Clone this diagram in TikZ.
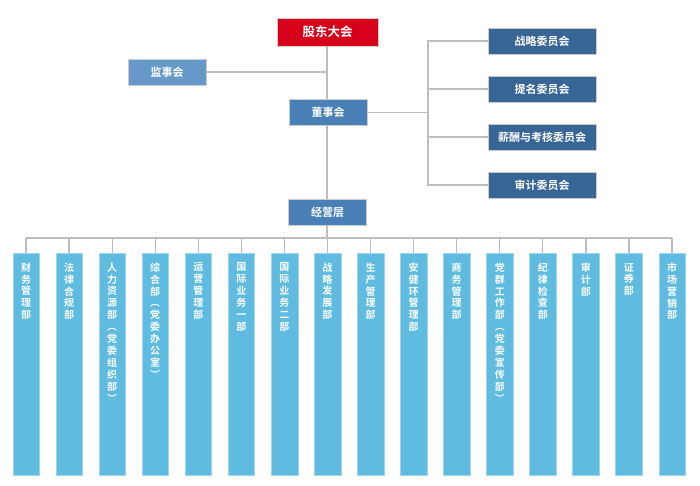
\documentclass[tikz,border=0pt]{standalone}
\usepackage{fontspec}
\newfontfamily\cjk{Noto Sans CJK SC}[BoldFont={Noto Sans CJK SC Bold}]
\begin{document}
\begin{tikzpicture}[x=1pt,y=-1pt,
  box/.style={draw=white!80!black,line width=0.4pt,text=white,font=\cjk\bfseries\fontsize{11}{13}\selectfont,inner sep=0pt,anchor=center},
  topbox/.style={box,fill=redc,minimum width=101pt,minimum height=28pt,font=\cjk\bfseries\fontsize{12.5}{14}\selectfont},
  midbox/.style={box,fill=midc,minimum width=78pt,minimum height=26pt},
  supbox/.style={box,fill=supc,minimum width=78pt,minimum height=26pt},
  combox/.style={box,fill=comc,minimum width=108pt,minimum height=26pt},
  dept/.style={fill=deptc,draw=deptc!60!white,line width=0.4pt},
  depttext/.style={text=white,font=\cjk\bfseries\fontsize{10}{11.9}\selectfont,align=center,anchor=north,inner sep=0pt},
  conn/.style={draw=linec,line width=1.2pt}]
\definecolor{redc}{HTML}{D7001B}
\definecolor{midc}{HTML}{4A80B8}
\definecolor{supc}{HTML}{6698C9}
\definecolor{comc}{HTML}{376595}
\definecolor{deptc}{HTML}{5FBBDF}
\definecolor{linec}{HTML}{BDBDBD}
\useasboundingbox[fill=white] (0,0) rectangle (700,485);
\coordinate (jA) at (327,72);
\coordinate (jB) at (428,112.5);
\coordinate (bus) at (327,238);
\node[topbox] (gd) at (327.5,32) {股东大会};
\node[supbox] (js) at (167,72) {监事会};
\node[midbox] (ds) at (328,112.5) {董事会};
\node[midbox] (jy) at (327.5,212) {经营层};
\node[combox] (c1) at (542,41) {战略委员会};
\node[combox] (c2) at (542,89) {提名委员会};
\node[combox] (c3) at (542,137) {薪酬与考核委员会};
\node[combox] (c4) at (542,185) {审计委员会};
\draw[conn] (gd.south -| jA) -- (ds.north -| jA);
\draw[conn] (js.east) -- (jA);
\draw[conn] (ds.south -| jA) -- (jy.north -| jA);
\draw[conn] (ds.east) -- (jB);
\draw[conn] (c1.west) -| (jB);
\draw[conn] (c4.west) -| (jB);
\draw[conn] (c2.west) -- (c2.west -| jB);
\draw[conn] (c3.west) -- (c3.west -| jB);
\draw[conn] (jy.south -| bus) -- (bus);
\foreach \t [count=\i from 0] in {
  {财\\务\\管\\理\\部},
  {法\\律\\合\\规\\部},
  {人\\力\\资\\源\\部\\︵\\党\\委\\组\\织\\部\\︶},
  {综\\合\\部\\︵\\党\\委\\办\\公\\室\\︶},
  {运\\营\\管\\理\\部},
  {国\\际\\业\\务\\一\\部},
  {国\\际\\业\\务\\二\\部},
  {战\\略\\发\\展\\部},
  {生\\产\\管\\理\\部},
  {安\\健\\环\\管\\理\\部},
  {商\\务\\管\\理\\部},
  {党\\群\\工\\作\\部\\︵\\党\\委\\宣\\传\\部\\︶},
  {纪\\律\\检\\查\\部},
  {审\\计\\部},
  {证\\券\\部},
  {市\\场\\营\\销\\部}}{
  \pgfmathsetmacro{\cx}{26+43.07*\i}
  \coordinate (t\i) at (\cx,238);
  \path[dept] (\cx-13.3,253) rectangle (\cx+13.3,475);
  \node[depttext] (d\i) at (\cx,262.5) {\t};
  \draw[conn] (t\i) -- (\cx,253);
}
\draw[conn] (t0) -- (t15);
\end{tikzpicture}
\end{document}
